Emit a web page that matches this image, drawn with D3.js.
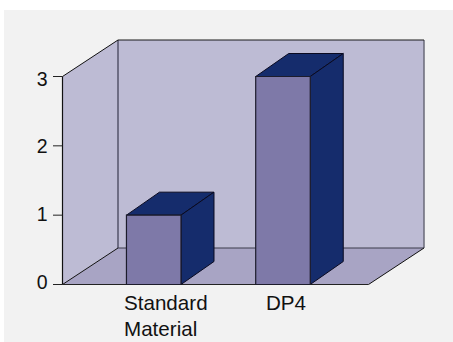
<!DOCTYPE html>
<html>
<head>
<meta charset="utf-8">
<script src="https://cdn.jsdelivr.net/npm/d3@7/dist/d3.min.js"></script>
<style>
html,body{margin:0;padding:0;background:#fff}
svg{display:block}
text{font-family:"Liberation Sans",Arial,sans-serif;fill:#111}
</style>
</head>
<body>
<svg id="chart" width="453" height="342"></svg>
<script>
const categories = [["Standard", "Material"], ["DP4"]];
const values = [1, 3];
const yTicks = [0, 1, 2, 3];

const svg = d3.select("#chart");
svg.append("rect").attr("x", 4).attr("y", 10).attr("width", 449).attr("height", 332).attr("fill", "#f2f2f2");

const plotLeft = 62.5, plotRight = 368.5, floorY = 284.5;
const wallDx = 55.5, wallDy = -36.5;
const barDx = 33, barDy = -23;

const y = d3.scaleLinear().domain([0, 3]).range([floorY, 76.5]);
// Tick labels sit on a slightly tighter spacing than the tick marks
const yLabel = d3.scaleLinear().domain([0, 3]).range([282, 78.5]);
const x = d3.scaleBand().domain(d3.range(categories.length)).range([89.1, 347.6]).paddingInner(0.578).paddingOuter(0.289);

const poly = (pts, fill, stroke, w) => svg.append("polygon")
  .attr("points", pts.map(p => p.join(",")).join(" "))
  .attr("fill", fill).attr("stroke", stroke || "none").attr("stroke-width", w || 1)
  .attr("stroke-linejoin", "miter");

const frontTop = y(3);
const bl = plotLeft + wallDx, br = plotRight + wallDx, fb = floorY + wallDy, tb = frontTop + wallDy;

// Side wall, back wall and floor of the 3D box
poly([[plotLeft, floorY], [plotLeft, frontTop], [bl, tb], [bl, fb]], "#bdbbd4");
poly([[bl, tb], [br, tb], [br, fb], [bl, fb]], "#bdbbd4");
poly([[plotLeft, floorY], [bl, fb], [br, fb], [plotRight, floorY]], "#a8a4c4");

const line = (x1, y1, x2, y2, c, w) => svg.append("line")
  .attr("x1", x1).attr("y1", y1).attr("x2", x2).attr("y2", y2)
  .attr("stroke", c).attr("stroke-width", w || 1);

line(bl, tb, bl, fb, "#55536a", 1.5);
line(br, tb, br, fb, "#6a6a78", 1.5);
line(bl, tb, br, tb, "#1a1a1a", 1.2);
line(bl, fb, br, fb, "#3a3a4a", 1);
line(plotLeft, frontTop, bl, tb, "#111", 1);
line(plotLeft, floorY, bl, fb, "#111", 1);
line(plotRight, floorY, br, fb, "#111", 1);
line(plotLeft, frontTop, plotLeft, floorY, "#111", 1.2);
line(plotLeft, floorY, plotRight, floorY, "#222", 1.2);

// Value axis: ticks and labels
const tickG = svg.append("g");
yTicks.forEach(t => {
  line(53, y(t), plotLeft, y(t), "#222", 1);
  tickG.append("text").attr("x", 47.5).attr("y", yLabel(t) + 7)
    .attr("text-anchor", "end").attr("font-size", 19.5).text(d3.format("d")(t));
});

// Bars as extruded boxes
values.forEach((v, i) => {
  const x0 = x(i), x1 = x0 + x.bandwidth(), yv = y(v), y0 = y(0);
  poly([[x0, yv], [x0 + barDx, yv + barDy], [x1 + barDx, yv + barDy], [x1, yv]], "#152c6c", "#0a0a20", 1);
  poly([[x1, yv], [x1 + barDx, yv + barDy], [x1 + barDx, y0 + barDy], [x1, y0]], "#152c6c", "#0a0a20", 1);
  poly([[x0, yv], [x1, yv], [x1, y0], [x0, y0]], "#7e79a8", "#1c1c2c", 1.2);
});

// Category labels
const labelX = [124, 266];
categories.forEach((lines, i) => {
  const t = svg.append("text").attr("font-size", 20.6);
  lines.forEach((s, j) => t.append("tspan").attr("x", labelX[i]).attr("y", 310 + j * 26).text(s));
});
</script>
</body>
</html>
